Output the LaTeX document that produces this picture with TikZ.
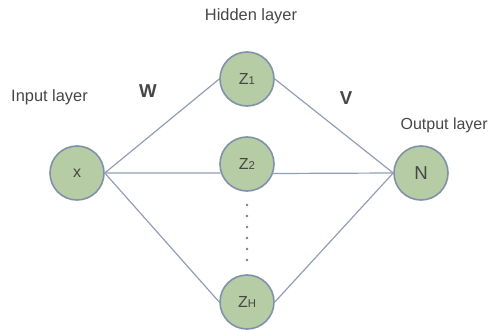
\documentclass[tikz,border=0pt]{standalone}
\usepackage{fontspec}
\setmainfont{Liberation Sans}
\definecolor{unitfill}{RGB}{181,204,164}
\definecolor{unitdraw}{RGB}{128,145,172}
\definecolor{edgecol}{RGB}{146,158,180}
\definecolor{txtcol}{RGB}{70,70,70}
\tikzset{
  unit/.style={circle, fill=unitfill, draw=unitdraw, line width=1.2pt,
    minimum size=40.5pt, inner sep=0pt, text=txtcol, font=\fontsize{12}{12}\selectfont},
  conn/.style={draw=edgecol, line width=0.9pt},
  layerlabel/.style={text=txtcol, font=\fontsize{12.3}{14}\selectfont, inner sep=0pt},
  weightlabel/.style={text=txtcol, font=\fontsize{14}{14}\selectfont\bfseries, inner sep=0pt}
}
\newcommand{\sub}[1]{{\fontsize{8.5}{8.5}\selectfont\raisebox{-0.5pt}{#1}}}
\begin{document}
\begin{tikzpicture}[x=0.75pt,y=0.75pt]
    \useasboundingbox (0,0) rectangle (489,329);

    % Units
    \node[unit] (x) at (77,156) {x};
    \node[unit] (z1) at (247,250) {Z\sub{1}};
    \node[unit] (z2) at (247,165) {Z\sub{2}};
    \node[unit] (zh) at (247,27) {Z\sub{H}};
    \node[unit, font=\fontsize{14}{14}\selectfont] (n) at (421,156) {N};

    % Connections
    \draw[conn] (x.east) -- (z1.west);
    \draw[conn] (x.east) -- (z2.199.5);
    \draw[conn] (x.east) -- (zh.west);
    \draw[conn] (z1.east) -- (n.west);
    \draw[conn] (z2.340.5) -- (n.west);
    \draw[conn] (zh.east) -- (n.west);

    % Dots between the hidden units
    \foreach \y in {124,113,102,91,80,69}{
        \fill[txtcol!70] (247,\y) circle (1.3);
    }

    % Labels
    \node[layerlabel] (hid) at (251,313) {Hidden layer};
    \node[layerlabel] (inp) at (49.5,232) {Input layer};
    \node[layerlabel, anchor=east, font=\fontsize{12}{14}\selectfont] (out) at (488,204) {Output layer};
    \node[weightlabel] (w) at (148,238) {W};
    \node[weightlabel] (v) at (346,231) {V};
\end{tikzpicture}
\end{document}
